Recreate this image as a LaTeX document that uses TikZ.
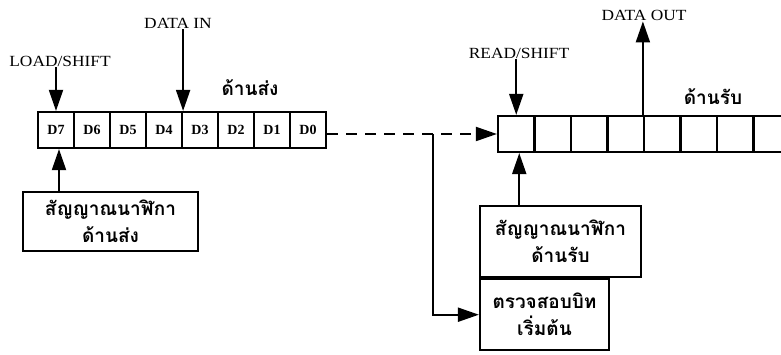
\documentclass[tikz,border=0pt]{standalone}
\usepackage{fontspec}
\setmainfont{Liberation Serif}
\newfontfamily\thaifont[Script=Thai]{Loma}
\newfontfamily\widefont[FakeStretch=1.12]{Liberation Serif}
\usetikzlibrary{arrows.meta}
\tikzset{
  lcell/.style={draw, line width=2.2pt, minimum width=36pt, minimum height=36pt, inner sep=0pt, font=\fontsize{14}{14}\selectfont\bfseries},
  rcell/.style={draw, line width=2.2pt, minimum width=36.5pt, minimum height=36pt, inner sep=0pt},
  lbl/.style={inner sep=1pt, font=\widefont\fontsize{15.5}{15.5}\selectfont},
  thlbl/.style={inner sep=1pt, font=\thaifont\fontsize{19}{19}\selectfont\bfseries},
  tbox/.style={draw, line width=2.2pt, inner sep=0pt, align=center, font=\thaifont\fontsize{19}{27}\selectfont\bfseries},
  arr/.style={line width=2pt, -{Triangle[length=21pt,width=14pt]}},
  dash line/.style={line width=2pt, dash pattern=on 11pt off 8pt}
}
\begin{document}
\begin{tikzpicture}[x=1pt,y=-1pt]
\clip (0,0) rectangle (781,355);
\useasboundingbox (0,0) rectangle (781,355);
% left register
\foreach \i/\t [count=\k from 0] in {7/D7,6/D6,5/D5,4/D4,3/D3,2/D2,1/D1,0/D0}
  \node[lcell] (L\i) at (56+36*\k,130) {\t};
% right register
\foreach \k in {1,...,8}
  \node[rcell] (R\k) at (498+18.25+36.5*\k-36.5,134) {};
% labels
\node[lbl] (ls) at (60,61) {LOAD/SHIFT};
\node[lbl] (di) at (178,23) {DATA IN};
\node[thlbl] (tx) at (250,88) {ด้านส่ง};
\node[lbl] (rs) at (519,53) {READ/SHIFT};
\node[lbl] (do) at (644,15) {DATA OUT};
\node[thlbl] (rx) at (713,97) {ด้านรับ};
% boxes
\node[tbox, minimum width=175pt, minimum height=59pt] (S) at (110.5,221.5) {สัญญาณนาฬิกา\\ด้านส่ง};
\node[tbox, minimum width=161pt, minimum height=71pt] (C1) at (560.5,241.5) {สัญญาณนาฬิกา\\ด้านรับ};
\node[tbox, minimum width=129pt, minimum height=71pt, anchor=north west] (C2) at (C1.south west) {ตรวจสอบบิท\\เริ่มต้น};
% arrows
\draw[arr] (L7.north |- ls.south) -- (L7.north);
\draw[arr] (L4.north east |- di.south) -- (L4.north east);
\draw[arr] ([xshift=3pt]L7.south |- S.north) -- ([xshift=3pt]L7.south);
\draw[arr] (R1.north |- rs.south) -- (R1.north);
\draw[arr] ([xshift=3pt]R1.south |- C1.north) -- ([xshift=3pt]R1.south);
\draw[arr] (R5.north west) -- (R5.north west |- do.south);
\draw[dash line] (L0.east |- R1.west) -- ([xshift=-21pt]R1.west);
\draw[arr] ([xshift=-21pt]R1.west) -- (R1.west);
\coordinate (j) at (433,134);
\draw[arr] (j) |- (C2.west);
\end{tikzpicture}
\end{document}
